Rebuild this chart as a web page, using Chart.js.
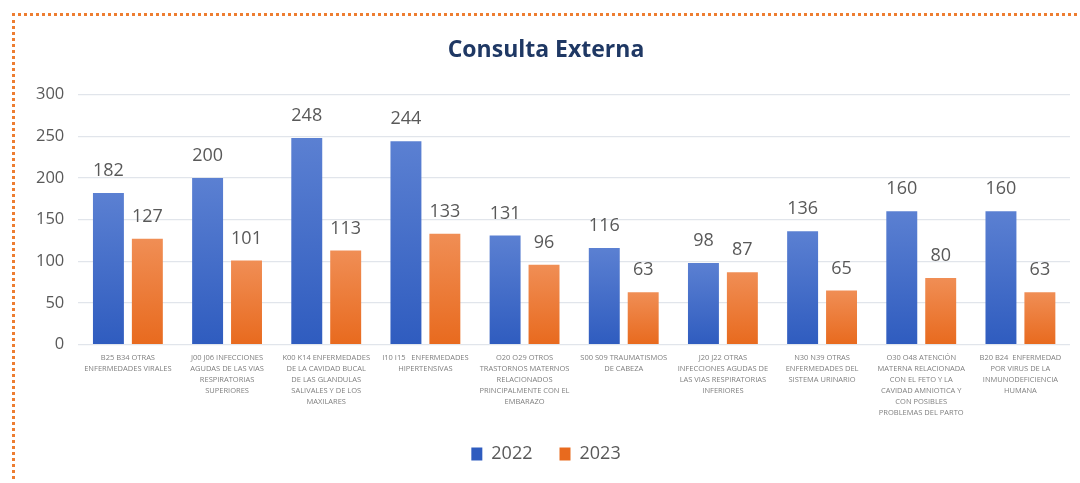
<!DOCTYPE html>
<html>
<head>
<meta charset="utf-8">
<script src="https://cdn.jsdelivr.net/npm/chart.js@4.4.1/dist/chart.umd.min.js"></script>
<style>
  html, body { margin: 0; padding: 0; background: #fff; }
  #marco {
    position: absolute; left: 12px; top: 13px; width: 1068px; height: 470px;
    border-top: 3px dotted #ED7D31; border-left: 3px dotted #ED7D31;
  }
  #caja { position: absolute; left: 0; top: 0; width: 1080px; height: 483px; }
</style>
</head>
<body>
<div id="marco"></div>
<div id="caja"><canvas id="grafico"></canvas></div>
<script>
// categorias (etiquetas en varias lineas)
var categorias = [
    ["B25 B34 OTRAS", "ENFERMEDADES VIRALES"],
    ["J00 J06 INFECCIONES", "AGUDAS DE LAS VIAS", "RESPIRATORIAS", "SUPERIORES"],
    ["K00 K14 ENFERMEDADES", "DE LA CAVIDAD BUCAL", "DE LAS GLANDULAS", "SALIVALES Y DE LOS", "MAXILARES"],
    ["I10 I15   ENFERMEDADES", "HIPERTENSIVAS"],
    ["O20 O29 OTROS", "TRASTORNOS MATERNOS", "RELACIONADOS", "PRINCIPALMENTE CON EL", "EMBARAZO"],
    ["S00 S09 TRAUMATISMOS", "DE CABEZA"],
    ["J20 J22 OTRAS", "INFECCIONES AGUDAS DE", "LAS VIAS RESPIRATORIAS", "INFERIORES"],
    ["N30 N39 OTRAS", "ENFERMEDADES DEL", "SISTEMA URINARIO"],
    ["O30 O48 ATENCIÓN", "MATERNA RELACIONADA", "CON EL FETO Y LA", "CAVIDAD AMNIOTICA Y", "CON POSIBLES", "PROBLEMAS DEL PARTO"],
    ["B20 B24  ENFERMEDAD", "POR VIRUS DE LA", "INMUNODEFICIENCIA", "HUMANA"]
];
var valores2022 = [182, 200, 248, 244, 131, 116, 98, 136, 160, 160];
var valores2023 = [127, 101, 113, 133, 96, 63, 87, 65, 80, 63];
var ticksY = [0, 50, 100, 150, 200, 250, 300];

function degradado(arriba, abajo) {
    return function (ctx) {
        var chart = ctx.chart;
        if (!chart.chartArea || ctx.raw === undefined) return abajo;
        var y = chart.scales.y;
        var top = y.getPixelForValue(ctx.raw);
        var base = y.getPixelForValue(0);
        if (!isFinite(top) || top === base) return abajo;
        var g = chart.ctx.createLinearGradient(0, top, 0, base);
        g.addColorStop(0, arriba);
        g.addColorStop(1, abajo);
        return g;
    };
}

var etiquetas = {
    id: 'etiquetas',
    afterDatasetsDraw: function (chart) {
        var c = chart.ctx;
        c.save();
        c.font = '18px "Open Sans", sans-serif';
        c.fillStyle = '#595959';
        c.textAlign = 'center';
        c.textBaseline = 'middle';
        chart.data.datasets.forEach(function (ds, i) {
            chart.getDatasetMeta(i).data.forEach(function (bar, j) {
                c.fillText(ds.data[j], bar.x, bar.y - 22);
            });
        });
        c.restore();
    }
};

new Chart(document.getElementById("grafico"), {
    type: 'bar',
    data: {
        labels: categorias,
        datasets: [
            {
                label: "2022",
                data: valores2022,
                backgroundColor: degradado('#5b80d2', '#2f5cbf'),
                borderWidth: 0,
                categoryPercentage: 0.785,
                barPercentage: 0.795
            },
            {
                label: "2023",
                data: valores2023,
                backgroundColor: degradado('#f08e55', '#e86a1e'),
                borderWidth: 0,
                categoryPercentage: 0.785,
                barPercentage: 0.795
            }
        ]
    },
    options: {
        responsive: true,
        maintainAspectRatio: false,
        animation: false,
        layout: { padding: { left: 22, right: 10, top: 37, bottom: 10 } },
        plugins: {
            title: {
                display: true,
                text: 'Consulta Externa',
                color: '#1f3864',
                font: { family: 'Open Sans', size: 23, weight: 'bold' },
                padding: { top: 0, bottom: 30 }
            },
            legend: {
                position: 'bottom',
                labels: {
                    color: '#595959',
                    font: { family: 'Open Sans', size: 18 },
                    boxWidth: 11,
                    boxHeight: 13,
                    padding: 27
                }
            },
            tooltip: { enabled: false }
        },
        scales: {
            x: {
                grid: { display: false },
                border: { display: false },
                ticks: {
                    color: '#7f7f7f',
                    font: { family: 'Open Sans', size: 7.5, lineHeight: 1.45 },
                    maxRotation: 0,
                    autoSkip: false,
                    padding: 0
                }
            },
            y: {
                min: 0,
                max: 300,
                afterBuildTicks: function (axis) {
                    axis.ticks = ticksY.map(function (v) { return { value: v }; });
                },
                grid: { color: '#e1e5eb', lineWidth: 1.3, drawTicks: false },
                border: { display: false },
                ticks: {
                    color: '#595959',
                    font: { family: 'Open Sans', size: 16.5 },
                    padding: 14
                }
            }
        }
    },
    plugins: [etiquetas]
});
</script>
</body>
</html>
